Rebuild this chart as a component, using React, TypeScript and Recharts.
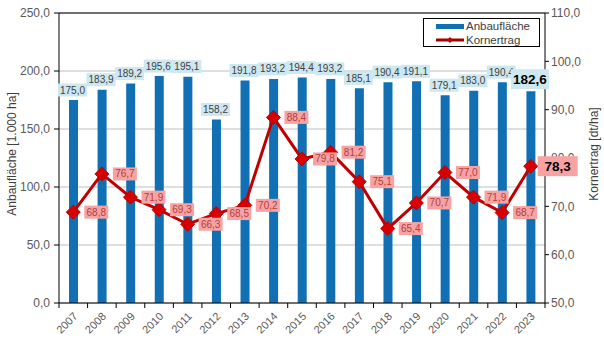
import React from "react";
import {
  ComposedChart,
  Bar,
  Line,
  XAxis,
  YAxis,
  CartesianGrid,
  LabelList,
  ReferenceLine,
} from "recharts";

const years = ["2007", "2008", "2009", "2010", "2011", "2012", "2013", "2014", "2015", "2016", "2017", "2018", "2019", "2020", "2021", "2022", "2023"];
const anbauflaeche = [175.0, 183.9, 189.2, 195.6, 195.1, 158.2, 191.8, 193.2, 194.4, 193.2, 185.1, 190.4, 191.1, 179.1, 183.0, 190.4, 182.6];
const kornertrag = [68.8, 76.7, 71.9, 69.3, 66.3, 68.5, 70.2, 88.4, 79.8, 81.2, 75.1, 65.4, 70.7, 77.0, 71.9, 68.7, 78.3];
const leftTicks = [0, 50, 100, 150, 200, 250];
const rightTicks = [50, 60, 70, 80, 90, 100, 110];

const data = years.map((year, i) => ({
  year,
  Anbaufläche: anbauflaeche[i],
  Kornertrag: kornertrag[i],
}));

const W = 604;
const H = 345;
const LEFT = 59;
const RIGHT = 59;
const STEP = (W - LEFT - RIGHT) / years.length;
const FONT = "'Liberation Sans', Arial, sans-serif";
const last = years.length - 1;

const fmt = (v: number) => v.toFixed(1).replace(".", ",");

const XTick = (props: any) => {
  const { x, y, payload, index } = props;
  const tx = x + 5;
  const ty = y + 14;
  return (
    <g>
      <line x1={x - STEP / 2} x2={x - STEP / 2} y1={y} y2={y + 5} stroke="#000" />
      {index === last && <line x1={x + STEP / 2} x2={x + STEP / 2} y1={y} y2={y + 5} stroke="#000" />}
      <text x={tx} y={ty} textAnchor="end" fontSize={11} fill="#595959" transform={`rotate(-45, ${tx}, ${ty})`}>
        {payload.value}
      </text>
    </g>
  );
};

const AxisTitle = ({ viewBox, title, px }: any) => {
  const cy = viewBox.y + viewBox.height / 2 - 4;
  return (
    <text x={px} y={cy} textAnchor="middle" dominantBaseline="central" fontSize={12} fill="#404040" transform={`rotate(-90, ${px}, ${cy})`}>
      {title}
    </text>
  );
};

const BarValue = (props: any) => {
  const { x, y, width, value, index } = props;
  const big = index === last;
  const cx = x + width / 2 - 1;
  const cy = y - (big ? 12 : 10);
  const bw = big ? 38 : 29;
  const bh = big ? 20 : 13;
  return (
    <g>
      <rect x={cx - bw / 2} y={cy - bh / 2} width={bw} height={bh} fill="#CDE8F1" />
      <text x={cx} y={cy} textAnchor="middle" dominantBaseline="central" fontSize={big ? 13.5 : 10} fontWeight={big ? "bold" : "normal"} fill={big ? "#000" : "#404040"}>
        {fmt(value)}
      </text>
    </g>
  );
};

const LineValue = (props: any) => {
  const { x, y, value, index } = props;
  const big = index === last;
  const bw = big ? 40 : 24;
  const bh = big ? 20 : 13;
  const left = x + (big ? 7 : 11);
  return (
    <g>
      <rect x={left} y={y - bh / 2} width={bw} height={bh} fill="#F7A3A3" />
      <text x={left + bw / 2} y={y} textAnchor="middle" dominantBaseline="central" fontSize={big ? 13.5 : 10} fontWeight={big ? "bold" : "normal"} fill={big ? "#000" : "#B04040"}>
        {fmt(value)}
      </text>
    </g>
  );
};

const Diamond = (props: any) => {
  const { cx, cy } = props;
  const r = 7;
  return <path d={`M${cx},${cy - r} L${cx + r},${cy} L${cx},${cy + r} L${cx - r},${cy} Z`} fill="#D60000" stroke="#C00000" strokeWidth={1} />;
};

export default function App() {
  return (
    <div style={{ position: "absolute", left: 0, top: 0, width: W, height: H, background: "#fff", fontFamily: FONT }}>
      <ComposedChart width={W} height={H} data={data} margin={{ top: 13, right: 0, bottom: 0, left: 0 }} style={{ fontFamily: FONT }}>
        <CartesianGrid yAxisId="left" vertical={false} stroke="#BFBFBF" />
        <XAxis
          dataKey="year"
          height={42}
          stroke="#000"
          tickLine={false}
          tickSize={0}
          tickMargin={0}
          interval={0}
          tick={<XTick />}
        />
        <YAxis
          yAxisId="left"
          width={LEFT}
          domain={[0, 250]}
          ticks={leftTicks}
          tickFormatter={fmt}
          stroke="#000"
          tickSize={5}
          tickMargin={4}
          tick={{ fill: "#595959", fontSize: 12 }}
          label={<AxisTitle title="Anbaufläche [1.000 ha]" px={12} />}
        />
        <YAxis
          yAxisId="right"
          orientation="right"
          width={RIGHT}
          domain={[50, 110]}
          ticks={rightTicks}
          tickFormatter={fmt}
          stroke="#000"
          tickSize={4}
          tickMargin={2}
          tick={{ fill: "#595959", fontSize: 12 }}
          label={<AxisTitle title="Kornertrag [dt/ha]" px={594} />}
        />
        <ReferenceLine yAxisId="left" y={250} stroke="#000" />
        <Bar yAxisId="left" dataKey="Anbaufläche" fill="#1170B3" barSize={9} isAnimationActive={false}>
          <LabelList dataKey="Anbaufläche" content={<BarValue />} />
        </Bar>
        <Line
          yAxisId="right"
          dataKey="Kornertrag"
          stroke="#C00000"
          strokeWidth={3}
          dot={<Diamond />}
          activeDot={false}
          isAnimationActive={false}
        >
          <LabelList dataKey="Kornertrag" content={<LineValue />} />
        </Line>
      </ComposedChart>
      <div
        style={{
          position: "absolute",
          left: 423,
          top: 18,
          width: 117,
          height: 29,
          border: "1px solid #000",
          background: "#fff",
          fontSize: 11.5,
          color: "#404040",
          lineHeight: "14px",
          boxSizing: "border-box",
        }}
      >
        <div style={{ display: "flex", alignItems: "center", height: 14 }}>
          <div style={{ marginLeft: 12, width: 28, height: 5, background: "#1170B3" }} />
          <span style={{ marginLeft: 2 }}>Anbaufläche</span>
        </div>
        <div style={{ display: "flex", alignItems: "center", height: 14 }}>
          <svg width={28} height={8} style={{ marginLeft: 12 }}>
            <line x1={0} x2={28} y1={4} y2={4} stroke="#A00000" strokeWidth={3} />
            <path d="M14,1 L17,4 L14,7 L11,4 Z" fill="#C00000" />
          </svg>
          <span style={{ marginLeft: 2 }}>Kornertrag</span>
        </div>
      </div>
    </div>
  );
}
